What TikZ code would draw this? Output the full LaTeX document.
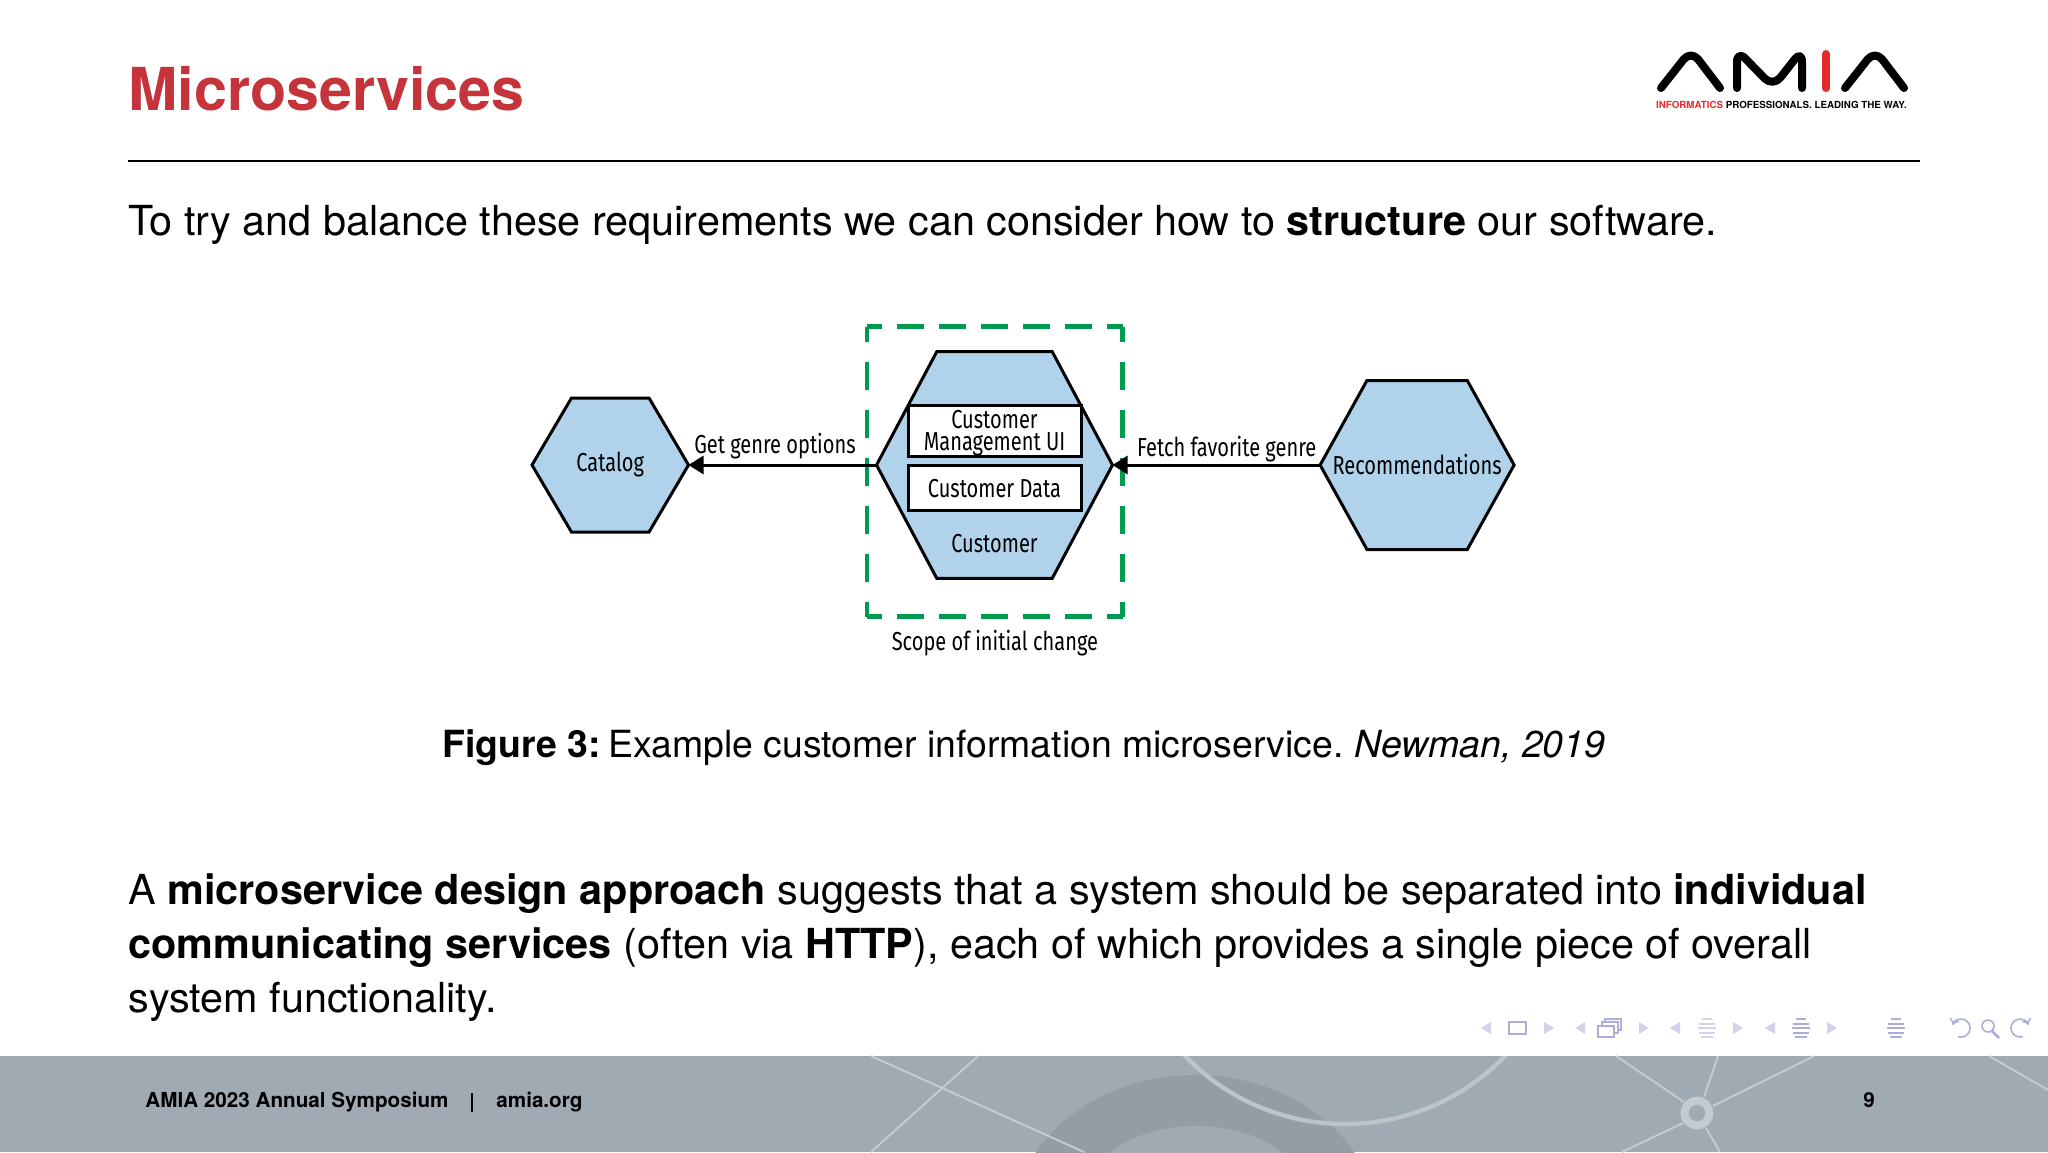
\documentclass[tikz,border=0pt]{standalone}
\usepackage{fontspec}
\setmainfont{TeX Gyre Heros}
\newfontfamily\figfont[FakeStretch=0.77]{Fira Sans}
\usetikzlibrary{arrows.meta, positioning, shapes.symbols}
\definecolor{amiared}{HTML}{C4343A}
\definecolor{logored}{HTML}{E52A2A}
\definecolor{hexblue}{HTML}{B0D3EB}
\definecolor{scopegreen}{HTML}{009A4E}
\definecolor{footgray}{HTML}{A0AAB2}
\definecolor{footdark}{HTML}{929DA6}
\definecolor{footline}{HTML}{C3CAD0}
\definecolor{navdark}{HTML}{ADADD9}
\definecolor{navlight}{HTML}{D2D2EA}
\tikzset{
  hexnode/.style={signal, signal to=west and east, signal pointer angle=#1, draw, fill=hexblue,
    line width=1.5pt, outer sep=0pt, inner sep=0pt, font=\figfont\fontsize{13}{13}\selectfont},
  innerbox/.style={draw, fill=white, line width=1.5pt, outer sep=0pt, inner sep=0pt, align=center,
    minimum width=86.5pt, font=\figfont\fontsize{13}{13}\selectfont},
  figlabel/.style={font=\figfont\fontsize{13}{11}\selectfont, inner sep=0pt, outer sep=0pt, align=center},
  bodytext/.style={anchor=base west, inner sep=0pt, font=\fontsize{20.68}{27}\selectfont, align=left},
  foottext/.style={anchor=base west, inner sep=0pt, font=\bfseries\fontsize{10.33}{12}\selectfont},
  linkline/.style={line width=1.5pt, -{Triangle[length=7.5pt,width=9pt]}},
  scopeh/.style={scopegreen, line width=2.4pt, dash pattern=on 13.5pt off 7.5pt, dash phase=6pt},
  scopev/.style={scopegreen, line width=2.4pt, dash pattern=on 14pt off 10pt, dash phase=6.5pt},
  logoline/.style={line width=4pt, line cap=round, line join=round, rounded corners=6pt},
  ringline/.style={footline, line width=1pt},
  navarrow/.style={navdark, line width=.8pt, -{To[length=3pt,width=5pt]}}
}
\begin{document}
\begin{tikzpicture}[x=.5pt,y=-.5pt,auto,node distance=94pt]
\useasboundingbox (0,0) rectangle (2048,1152);

% footer band
\fill[footgray] (0,1056) rectangle (2048,1152);
\begin{scope}
  \clip (0,1056) rectangle (2048,1152);
  \fill[footdark] (1195,1230) ellipse [x radius=184, y radius=155];
  \fill[footgray] (1196,1190) ellipse [x radius=106, y radius=64];
  \draw[footline!80!footgray, line width=2.2pt] (1345,902) circle [radius=222];
\end{scope}
\draw[ringline] (871,1056) -- (1084,1152);
\draw[ringline] (978,1056) -- (871,1152);
\draw[ringline] (1616,1056) -- (1684,1102);
\draw[ringline] (1718,1056) -- (1704,1097);
\draw[ringline] (1814,1056) -- (1713,1106);
\draw[ringline] (1683,1123) -- (1622,1152);
\draw[ringline] (1706,1128) -- (1720,1152);
\draw[ringline] (1989,1056) -- (2048,1090);
\draw[footline, line width=4pt] (1697,1113) circle [radius=12.5];
\node[foottext] (symposium) at (145,1107) {AMIA 2023 Annual Symposium};
\node[foottext] (sitelink) at (496,1107) {amia.org};
\node[foottext] (pagenum) at (1863,1107) {9};
\draw[line width=.6pt] (472,1093) -- (472,1112);

% title and logo
\node[anchor=base west, inner sep=0pt, text=amiared, font=\bfseries\fontsize{29.6}{30}\selectfont] (title) at (128,110.5) {Microservices};
\draw[line width=1pt] (128,161) -- (1920,161);
\draw[logoline] (1661,88) -- (1691,50) -- (1720,88);
\draw[logoline] (1737,88) -- (1737,50) -- (1773,87) -- (1802,50) -- (1802,88);
\draw[logoline, logored] (1826,54) -- (1826,88);
\draw[logoline] (1845,88) -- (1875,50) -- (1904,88);
\node[inner sep=0pt, font=\bfseries\fontsize{4.88}{5}\selectfont] (tagline) at (1781.5,105)
  {\textcolor{logored}{INFORMATICS} PROFESSIONALS. LEADING THE WAY.};

% text
\node[bodytext] (intro) at (128,235.5) {To try and balance these requirements we can consider how to \textbf{structure} our software.};
\node[anchor=base, inner sep=0pt, font=\fontsize{18.7}{27}\selectfont] (caption) at (1024,757)
  {\textbf{Figure 3:}\hspace{.2em}Example customer information microservice.\hspace{.3em}\textit{Newman, 2019}};
\node[bodytext] (para) at (128,1012) {A \textbf{microservice design approach} suggests that a system should be separated into \textbf{individual}\\
  \textbf{communicating services} (often via \textbf{HTTP}), each of which provides a single piece of overall\\
  system functionality.};

% define the services
\node[hexnode=124, minimum width=118pt, minimum height=113.3pt] (customer) at (994.5,465) {};
\node[hexnode=119, minimum width=78.25pt, minimum height=67pt] (catalog) [left=of customer] {\raisebox{1pt}{Catalog}};
\node[hexnode=122, minimum width=97pt, minimum height=84.5pt, xshift=9.8pt] (recommendations) [right=of customer] {\makebox[0pt]{\raisebox{-.5pt}{Recommendations}}};

% define the boxes in the customer service
\node[innerbox, minimum height=25.4pt] (ui) at (994.5,430.6) {};
\node[figlabel, yshift=-1.3pt] (uilabel) at (ui) {Customer\\Management UI};
\node[innerbox, minimum height=22.4pt] (data) at (994.5,488.3) {\raisebox{-.6pt}{Customer Data}};
\node[figlabel, below=12pt of data] (customerlabel) {Customer};

% define the scope of the change
\node[minimum width=127.9pt, minimum height=145pt, inner sep=0pt, outer sep=0pt] (scope) at (994.9,471.7) {};
\node[figlabel, below=6.8pt of scope] (scopelabel) {Scope of initial change};

% dashes of the scope
\draw[scopeh] (scope.north west) -- (scope.north east);
\draw[scopeh] (scope.south west) -- (scope.south east);
\draw[scopev] (scope.north west) -- (scope.south west);
\draw[scopev] (scope.north east) -- (scope.south east);

% define the links
\path (customer.west) edge[linkline] node[figlabel, above=3pt, pos=.54] {Get genre options} (catalog.east);
\path (recommendations.west) edge[linkline] node[figlabel, above=1.7pt, pos=.45] {Fetch favorite genre} (customer.east);

% navigation symbols
\foreach \x in {1486,1580,1675,1770} \fill[navlight] (\x+5,1022) -- (\x+5,1034) -- (\x-5,1028) -- cycle;
\foreach \x in {1549,1644,1738,1832} \fill[navlight] (\x-5,1022) -- (\x-5,1034) -- (\x+5,1028) -- cycle;
\draw[navdark, line width=.9pt] (1509,1022) rectangle (1526,1034);
\draw[navdark, line width=.8pt, fill=white] (1605,1019) rectangle (1621,1030);
\draw[navdark, line width=.8pt, fill=white] (1602,1022) rectangle (1618,1033);
\draw[navdark, line width=.8pt, fill=white] (1598,1026) rectangle (1614,1037);
\foreach \x/\c in {1707/navlight,1801/navdark,1896/navdark}
  \foreach \y/\w in {1019/5,1024/8,1028/9,1033/8,1037/6}
    \draw[\c, line width=1pt] (\x-\w,\y) -- (\x+\w,\y);
\draw[navarrow] (1958,1036.5) arc [start angle=110, end angle=-160, radius=9];
\draw[navdark, line width=.8pt] (1988,1026) circle [radius=6];
\draw[navdark, line width=1.3pt] (1992,1031) -- (1999,1038);
\draw[navarrow] (2023,1036.5) arc [start angle=70, end angle=340, radius=9];
\end{tikzpicture}
\end{document}
